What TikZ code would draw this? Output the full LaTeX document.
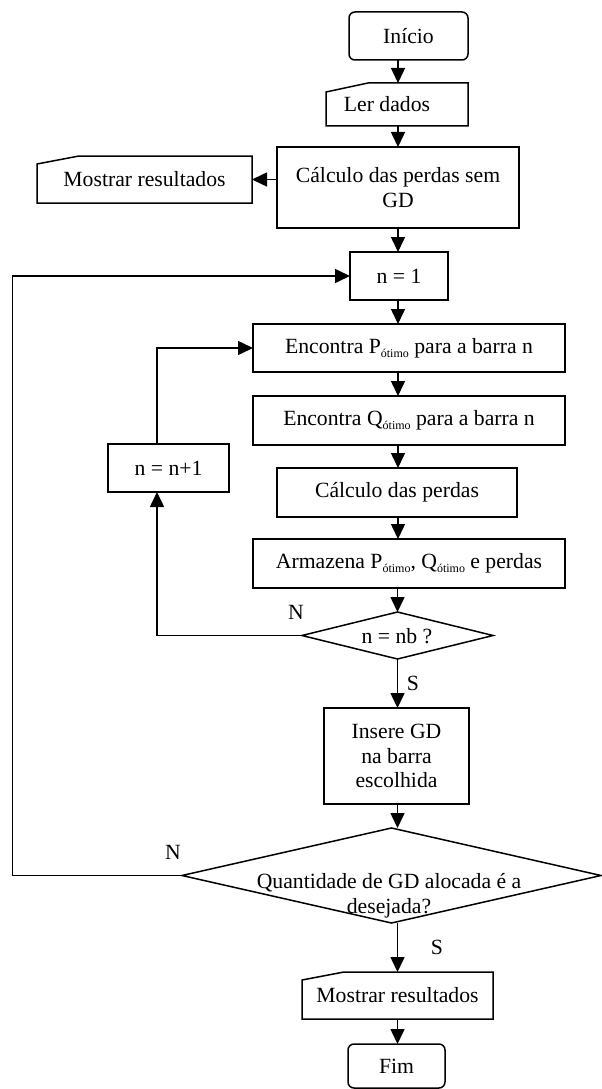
\documentclass[tikz,border=0pt]{standalone}
\usepackage{fontspec}
\setmainfont{Liberation Serif}
\usetikzlibrary{arrows.meta,shapes.geometric}
\newcommand{\otimo}{\raisebox{-0.4ex}{\fontsize{12}{12}\selectfont ótimo}}
\begin{document}
\begin{tikzpicture}[x=1pt,y=-1pt,
  font=\fontsize{21.7}{24.5}\selectfont,
  line width=1.5pt,
  every node/.style={inner sep=0pt, outer sep=0pt},
  box/.style={draw, rectangle, align=center},
  term/.style={draw, rectangle, rounded corners=6pt},
  iobox/.style={rectangle, align=center},
  dia/.style={draw, diamond},
  arr/.style={-{Triangle[length=15pt,width=14pt]}}]
\useasboundingbox (0,0) rectangle (602,1089);
\coordinate (ax) at (398,0);
\coordinate (lx) at (157,0);
\coordinate (llx) at (12.5,0);

\node[term, minimum width=119pt, minimum height=48pt] (inicio) at (408.5,36) {Início};
\node[iobox, minimum width=142pt, minimum height=43pt] (ler) at (397,104.5) {\hspace*{-20pt}Ler dados};
\draw (ler.north east) -- (ler.south east) -- (ler.south west) -- ([yshift=-9pt]ler.north west) -- ([xshift=42pt]ler.north west) -- cycle;
\node[box, minimum width=242pt, minimum height=81pt] (calc0) at (398,187.5) {Cálculo das perdas sem\\GD};
\node[iobox, minimum width=215pt, minimum height=47pt] (mostrar1) at (144.5,179.5) {Mostrar resultados};
\draw (mostrar1.north east) -- (mostrar1.south east) -- (mostrar1.south west) -- ([yshift=-8pt]mostrar1.north west) -- ([xshift=42pt]mostrar1.north west) -- cycle;
\node[box, minimum width=98pt, minimum height=48pt] (n1) at (399,276) {n = 1};
\node[box, minimum width=312pt, minimum height=48pt] (encP) at (409,348) {Encontra P\otimo{} para a barra n};
\node[box, minimum width=312pt, minimum height=49pt] (encQ) at (409,420.5) {Encontra Q\otimo{} para a barra n};
\node[box, minimum width=240pt, minimum height=49pt] (calc) at (397,492.5) {Cálculo das perdas};
\node[box, minimum width=312pt, minimum height=49pt] (arm) at (409,563.5) {Armazena P\otimo, Q\otimo{} e perdas};
\node[dia, minimum width=191pt, minimum height=47pt] (d1) at (397.5,635.5) {};
\node (d1t) at (397,636) {n = nb ?};
\node[box, minimum width=121pt, minimum height=48pt] (nn1) at (168.5,468) {n = n+1};
\node[box, minimum width=145pt, minimum height=96pt] (insere) at (396.5,756) {Insere GD\\na barra\\escolhida};
\node[dia, minimum width=419pt, minimum height=95pt] (d2) at (391.5,875.5) {};
\node[align=center] (d2t) at (389,896) {Quantidade de GD alocada é a\\desejada?};
\node[iobox, minimum width=191pt, minimum height=47pt] (mostrar2) at (397.5,995.5) {Mostrar resultados};
\draw (mostrar2.north east) -- (mostrar2.south east) -- (mostrar2.south west) -- ([yshift=-8pt]mostrar2.north west) -- ([xshift=42pt]mostrar2.north west) -- cycle;
\node[term, minimum width=97pt, minimum height=44pt] (fim) at (396.5,1066) {Fim};

\node (N1) at (296,612) {N};
\node (S1) at (413,683) {S};
\node (N2) at (173,852) {N};
\node (S2) at (437,947) {S};

\draw[arr] (inicio.south -| ax) -- (ler.north -| ax);
\draw[arr] (ler.south -| ax) -- (calc0.north -| ax);
\draw[arr] (calc0.west |- mostrar1.east) -- (mostrar1.east);
\draw[arr] (calc0.south -| ax) -- (n1.north -| ax);
\draw[arr] (n1.south -| ax) -- (encP.north -| ax);
\draw[arr] (encP.south -| ax) -- (encQ.north -| ax);
\draw[arr] (encQ.south -| ax) -- (calc.north -| ax);
\draw[arr] (calc.south -| ax) -- (arm.north -| ax);
\draw[arr] (arm.south -| d1.north) -- (d1.north);
\draw[arr] (d1.south) -- (insere.north -| d1.south);
\draw[arr] (insere.south -| d1.south) -- (d2.north -| d1.south);
\draw[arr] (d2.south -| d1.south) -- (mostrar2.north -| d1.south);
\draw[arr] (mostrar2.south -| d1.south) -- (fim.north -| d1.south);
\draw[arr] (d1.west) -| (nn1.south -| lx);
\draw[arr] (nn1.north -| lx) |- (encP.west);
\draw[arr] (d2.west) -- (d2.west -| llx) |- (n1.west);
\end{tikzpicture}
\end{document}
